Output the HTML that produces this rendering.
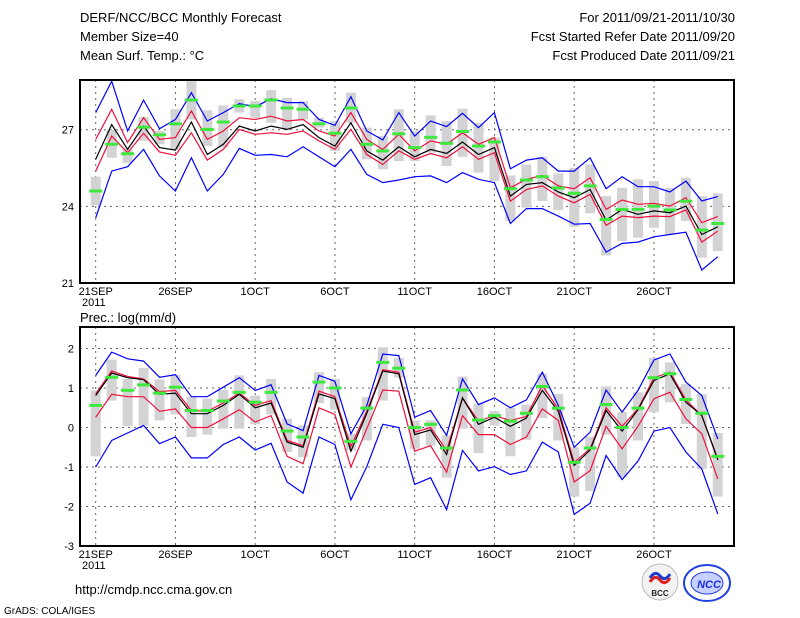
<!DOCTYPE html>
<html><head><meta charset="utf-8"><style>
body{margin:0;background:#fff;}
svg{display:block;font-family:"Liberation Sans",sans-serif;}
</style></head><body>
<svg id="c" width="800" height="618" xmlns="http://www.w3.org/2000/svg">
<rect width="800" height="618" fill="#fff"/>
<g font-size="13" fill="#000">
<text x="80" y="22">DERF/NCC/BCC Monthly Forecast</text>
<text x="80" y="41">Member Size=40</text>
<text x="80" y="60">Mean Surf. Temp.: °C</text>
<text x="735" y="22" text-anchor="end">For 2011/09/21-2011/10/30</text>
<text x="735" y="41" text-anchor="end">Fcst Started Refer Date 2011/09/20</text>
<text x="735" y="60" text-anchor="end">Fcst Produced Date 2011/09/21</text>
<text x="80" y="322">Prec.: log(mm/d)</text>
<text x="75" y="594">http://cmdp.ncc.cma.gov.cn</text>
<text x="4" y="614" font-size="10">GrADS: COLA/IGES</text>
</g>
<g>
<circle cx="660" cy="582" r="18" fill="#f2f2f2" stroke="#bbb"/>
<path d="M650 578 q5 -8 10 -2 q5 6 10 -2" stroke="#1a3ccc" stroke-width="3" fill="none"/>
<path d="M650 582 q5 -8 10 -2 q5 6 10 -2" stroke="#e02020" stroke-width="3" fill="none"/>
<text x="660" y="596" font-size="8" font-weight="bold" text-anchor="middle" fill="#222">BCC</text>
</g>
<g>
<ellipse cx="707" cy="583" rx="23" ry="18" fill="#fff" stroke="#2340e0" stroke-width="2"/>
<ellipse cx="707" cy="583" rx="16" ry="11" fill="#c8d0ff" stroke="#2340e0"/>
<text x="709" y="588" font-size="11" font-style="italic" font-weight="bold" text-anchor="middle" fill="#1a30e0">NCC</text>
</g>
<g id="top"></g>
<g id="bot"></g>
</svg>
<script>
const dates = ["21SEP","26SEP","1OCT","6OCT","11OCT","16OCT","21OCT","26OCT"];
const tBlueUp = [27.67,28.9,26.95,28.16,27.04,27.4,28.45,27.34,27.67,28.02,27.9,28.21,28.06,28.06,27.4,27.17,28.29,26.95,26.6,27.67,26.75,27.34,27.12,27.64,27.08,27.67,25.47,25.81,25.9,25.38,25.38,25.9,24.69,25.16,24.77,24.77,24.56,24.99,24.21,24.38];
const tRedUp = [26.62,27.8,26.5,27.47,26.62,26.69,27.73,26.62,26.95,27.47,27.4,27.53,27.34,27.4,26.95,26.75,27.67,26.62,26.23,26.82,26.17,26.56,26.43,26.88,26.43,26.69,24.73,25.06,25.21,24.8,24.69,25.12,23.88,24.25,24.08,24.12,24.01,24.34,23.36,23.6];
const tMean = [25.84,27.2,26.23,27.14,26.3,26.2,27.3,26.03,26.43,27.14,26.95,27.14,27.01,27.2,26.69,26.36,27.27,26.17,25.81,26.33,25.94,26.23,26.07,26.52,26.03,26.3,24.4,24.86,24.93,24.56,24.34,24.66,23.46,23.88,23.69,23.82,23.75,24.01,22.9,23.2];
const tRedLo = [25.38,26.75,26.1,26.86,26.13,26.0,26.88,25.81,26.23,27.01,26.82,26.88,26.82,26.95,26.56,26.23,27.01,26.03,25.64,26.17,25.84,26.07,25.9,26.33,25.84,26.1,24.2,24.66,24.8,24.4,24.14,24.47,23.26,23.62,23.56,23.62,23.6,23.86,22.6,23.03];
const tBlueLo = [23.55,25.38,25.55,26.23,25.19,24.6,25.9,24.6,25.25,26.27,26.0,26.03,25.94,26.33,25.94,25.55,26.23,25.25,24.93,25.03,25.16,25.19,24.93,25.32,25.06,24.93,23.33,23.91,23.91,23.62,23.3,23.33,22.21,22.55,22.6,22.81,22.9,22.99,21.51,22.03];
const tObs = [24.6,26.43,26.06,27.1,26.8,27.23,28.16,27.01,27.3,27.93,27.93,28.16,27.85,27.8,27.23,26.86,27.85,26.43,26.17,26.84,26.3,26.7,26.47,26.93,26.36,26.52,24.69,25.03,25.16,24.72,24.51,24.8,23.49,23.88,23.88,24.01,23.86,24.2,23.07,23.33];
const tBoxHi = [25.16,27.0,26.23,27.5,26.95,27.8,28.9,27.76,27.95,28.19,28.12,28.55,28.25,28.12,27.47,27.34,28.45,27.08,26.75,27.8,26.95,27.56,27.34,27.82,27.27,26.69,25.21,25.64,25.94,25.29,25.51,25.64,24.4,24.73,25.06,24.99,24.73,25.12,24.4,24.51];
const tBoxLo = [24.04,25.9,25.7,26.56,26.43,26.23,27.4,26.36,26.3,27.67,27.47,27.27,27.01,27.4,27.08,26.17,27.27,25.84,25.45,25.77,25.77,26.1,25.58,25.94,25.32,24.99,23.43,23.95,24.21,23.86,23.2,23.73,22.08,22.64,22.77,23.16,22.9,23.43,21.99,22.25];
const tTicks = [21,24,27];

const pBlueUp = [1.32,1.91,1.74,1.68,1.27,1.34,0.78,0.78,1.02,1.26,0.94,1.08,0.09,-0.08,1.32,1.17,-0.16,0.56,1.86,1.82,0.26,0.43,-0.2,1.23,0.58,0.75,0.5,0.7,1.4,0.56,-0.5,-0.12,0.95,0.39,0.94,1.71,1.86,1.15,0.81,-0.29];
const pRedUp = [0.85,1.43,1.29,1.23,0.91,0.94,0.43,0.41,0.62,0.87,0.56,0.68,-0.33,-0.46,0.92,0.78,-0.48,0.41,1.46,1.4,-0.12,0.0,-0.58,0.75,0.16,0.3,0.18,0.28,1.06,0.47,-0.88,-0.54,0.5,0.03,0.47,1.26,1.4,0.7,0.3,-0.79];
const pMean = [0.81,1.38,1.26,1.21,0.84,0.87,0.35,0.35,0.56,0.84,0.5,0.62,-0.37,-0.5,0.85,0.73,-0.6,0.36,1.43,1.36,-0.18,-0.06,-0.68,0.75,0.08,0.26,0.03,0.24,0.94,0.41,-0.96,-0.57,0.43,-0.09,0.45,1.19,1.36,0.64,0.3,-0.82];
const pRedLo = [0.26,0.84,0.78,0.78,0.41,0.47,0.0,0.0,0.22,0.45,0.14,0.3,-0.73,-0.92,0.5,0.33,-1.0,-0.03,0.95,0.92,-0.6,-0.46,-1.13,0.3,-0.18,-0.18,-0.43,-0.24,0.47,0.18,-1.38,-1.09,0.03,-0.54,0.03,0.73,0.89,0.22,-0.16,-1.3];
const pBlueLo = [-1.0,-0.33,-0.14,0.05,-0.41,-0.24,-0.77,-0.77,-0.43,-0.24,-0.57,-0.4,-1.38,-1.66,-0.24,-0.43,-1.83,-0.99,0.08,0.0,-1.44,-1.27,-2.08,-0.58,-1.1,-0.99,-1.19,-1.1,-0.37,-0.62,-2.2,-1.92,-0.71,-1.32,-0.85,-0.09,0.0,-0.62,-1.05,-2.19];
const pObs = [0.56,1.27,0.94,1.08,0.87,1.02,0.43,0.43,0.67,0.89,0.64,0.89,-0.09,-0.24,1.15,1.0,-0.35,0.49,1.65,1.5,0.0,0.08,-0.52,0.95,0.19,0.3,0.16,0.36,1.04,0.49,-0.88,-0.52,0.58,0.0,0.49,1.26,1.36,0.71,0.36,-0.73];
const pBoxHi = [0.94,1.72,1.23,1.51,1.22,1.34,0.77,0.73,0.95,1.32,0.81,1.23,0.22,0.05,1.4,1.23,-0.16,0.77,2.03,1.76,0.18,0.18,-0.2,1.29,0.6,0.41,0.5,0.58,1.36,0.85,-0.5,-0.23,1.04,0.39,0.89,1.76,1.65,1.1,0.84,-0.14];
const pBoxLo = [-0.73,0.68,0.03,0.05,0.18,0.33,-0.24,-0.18,-0.03,-0.03,0.08,0.33,-0.62,-0.75,0.62,0.45,-0.58,-0.33,0.68,1.26,-0.54,-0.46,-1.27,-0.03,-0.65,0.05,-0.73,-0.31,0.24,-0.33,-1.75,-1.61,-0.18,-1.26,-0.33,0.39,0.64,0.09,-1.05,-1.75];
const pTicks = [-3,-2,-1,0,1,2];

const NS = "http://www.w3.org/2000/svg";
function mk(parent, tag, attrs){const e=document.createElementNS(NS,tag);for(const k in attrs)e.setAttribute(k,attrs[k]);parent.appendChild(e);return e;}
const xOf = i => 95.7 + 15.95*i;

function panel(g, top, bottom, vmin, vmax, ticks, S, boxW){
  const yOf = v => bottom - (v - vmin)/(vmax - vmin)*(bottom - top);
  // grid
  ticks.forEach(t=>{
    const y=yOf(t);
    if(t!==vmin){const l=mk(g,'line',{x1:80,x2:734,y1:y,y2:y,stroke:'#666','stroke-dasharray':'2,4','stroke-width':1});
    
    }
    const tx=mk(g,'text',{x:74,y:y+4,'text-anchor':'end','font-size':11});
    tx.textContent=t;
    
    
  });
  dates.forEach((d,k)=>{
    const x=xOf(k*5);
    const l=mk(g,'line',{x1:x,x2:x,y1:top,y2:bottom,stroke:'#666','stroke-dasharray':'2,4','stroke-width':1});
    
    
    const tx=mk(g,'text',{x:x,y:bottom+12,'text-anchor':'middle','font-size':11});
    tx.textContent=d;
    
    
  });
  const yr=mk(g,'text',{x:82,y:bottom+23,'font-size':11});
  yr.textContent='2011';
  
  
  // boxes
  S.boxHi.forEach((h,i)=>{
    const r=mk(g,'rect',{x:xOf(i)-boxW/2,y:yOf(h),width:boxW,height:yOf(S.boxLo[i])-yOf(h),fill:'#d3d3d6'});
    
    
  });
  // lines
  [[S.blueLo,'#0000ff','blue-lower-line'],[S.blueUp,'#0000ff','blue-upper-line'],[S.redLo,'#f0103c','red-lower-line'],[S.redUp,'#f0103c','red-upper-line'],[S.mean,'#000','ensemble-mean-line']].forEach(([arr,col,name])=>{
    const p=mk(g,'polyline',{points:arr.map((v,i)=>xOf(i).toFixed(1)+','+yOf(v).toFixed(1)).join(' '),fill:'none',stroke:col,'stroke-width':1.2});
    
    
  });
  // obs markers
  S.obs.forEach((v,i)=>{
    const r=mk(g,'rect',{x:xOf(i)-6.5,y:yOf(v)-1.5,width:13,height:3,fill:'#3ee83e'});
    
    
  });
  const f=mk(g,'rect',{x:80,y:top,width:654,height:bottom-top,fill:'none',stroke:'#000','stroke-width':2});
  
  
}
panel(document.getElementById('top'),80,283,21,21+203/25.55,tTicks,
  {blueUp:tBlueUp,redUp:tRedUp,mean:tMean,redLo:tRedLo,blueLo:tBlueLo,obs:tObs,boxHi:tBoxHi,boxLo:tBoxLo},10);
panel(document.getElementById('bot'),327,546,-3,-3+219/39.5,pTicks,
  {blueUp:pBlueUp,redUp:pRedUp,mean:pMean,redLo:pRedLo,blueLo:pBlueLo,obs:pObs,boxHi:pBoxHi,boxLo:pBoxLo},10);
</script>
</body></html>
